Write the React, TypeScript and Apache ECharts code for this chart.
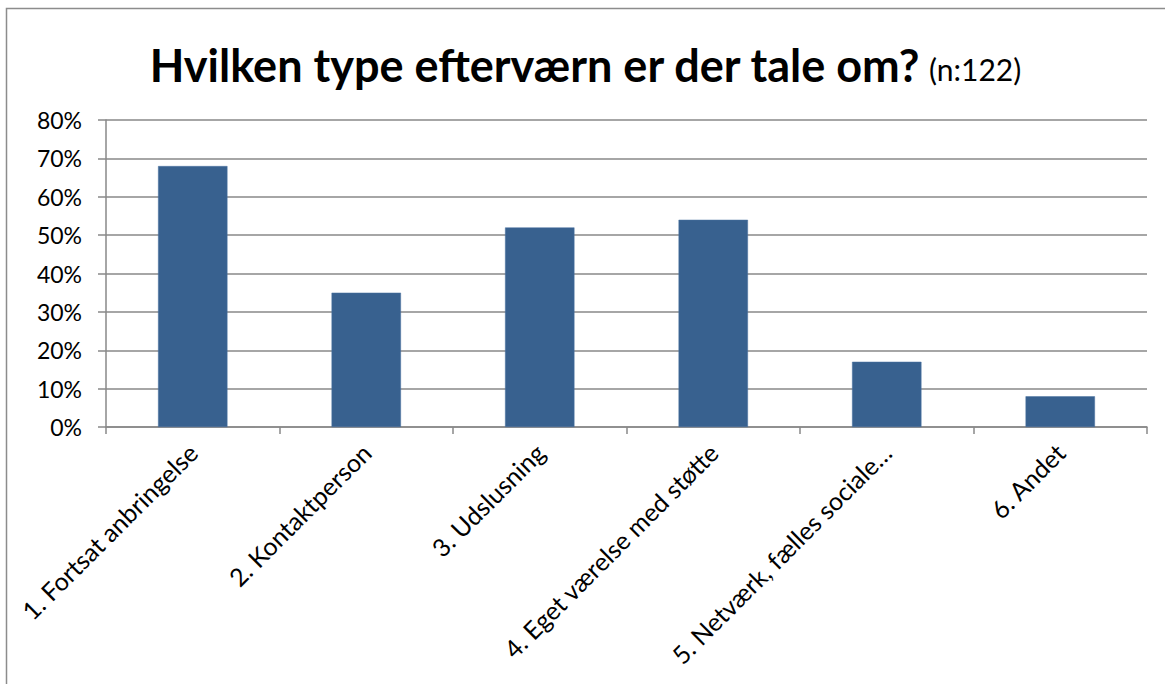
import React, { useEffect, useRef } from "react";
import * as echarts from "echarts";

const categories = [
  "1. Fortsat anbringelse",
  "2. Kontaktperson",
  "3. Udslusning",
  "4. Eget værelse med støtte",
  "5. Netværk, fælles sociale…",
  "6. Andet",
];
const values = [68, 35, 52, 54, 17, 8];
const yTicks = { min: 0, max: 80, interval: 10 };
const titleMain = "Hvilken type efterværn er der tale om?";
const titleSub = "(n:122)";

export default function App() {
  const ref = useRef<HTMLDivElement>(null);
  useEffect(() => {
    document.body.style.margin = "0";
    const chart = echarts.init(ref.current!, null, { renderer: "svg" });
    const font = "Lato, 'Open Sans', sans-serif";
    chart.setOption({
      animation: false,
      backgroundColor: "#ffffff",
      textStyle: { fontFamily: font },
      title: {
        text: `{a|${titleMain}}  {b|${titleSub}}`,
        left: 580,
        textAlign: "center",
        top: 37,
        textStyle: {
          rich: {
            a: { fontFamily: font, fontWeight: "bold", fontSize: 45, color: "#000" },
            b: { fontFamily: font, fontWeight: "normal", fontSize: 30, color: "#000", padding: [8, 0, 0, 0] },
          },
        },
      },
      graphic: [
        {
          type: "rect",
          shape: { x: 6.5, y: 8.5, width: 1200, height: 800 },
          style: { fill: "none", stroke: "#8c8c8c", lineWidth: 1.5 },
          silent: true,
        },
      ],
      grid: { left: 106, right: 18, top: 120, bottom: 257 },
      xAxis: {
        type: "category",
        data: categories,
        axisLine: { show: true, lineStyle: { color: "#888888", width: 1.5 } },
        axisTick: { show: true, length: 7, alignWithLabel: false, lineStyle: { color: "#888888", width: 1.5 } },
        axisLabel: {
          interval: 0,
          rotate: 45,
          margin: 21,
          fontSize: 25,
          color: "#000",
          fontFamily: font,
        },
      },
      yAxis: {
        type: "value",
        min: yTicks.min,
        max: yTicks.max,
        interval: yTicks.interval,
        axisLine: { show: true, lineStyle: { color: "#888888", width: 1.5 } },
        axisTick: { show: true, length: 8, lineStyle: { color: "#888888", width: 1.5 } },
        axisLabel: {
          formatter: (v: number) => `${v}%`,
          fontSize: 23,
          color: "#000",
          margin: 24,
          fontFamily: font,
        },
        splitLine: { show: true, lineStyle: { color: "#888888", width: 1.5 } },
      },
      series: [
        {
          type: "bar",
          data: values,
          barWidth: "40%",
          itemStyle: { color: "#38618f", borderColor: "#4a72a0", borderWidth: 0.5 },
        },
      ],
    });
    return () => chart.dispose();
  }, []);
  return <div ref={ref} style={{ width: 1165, height: 684 }} />;
}
